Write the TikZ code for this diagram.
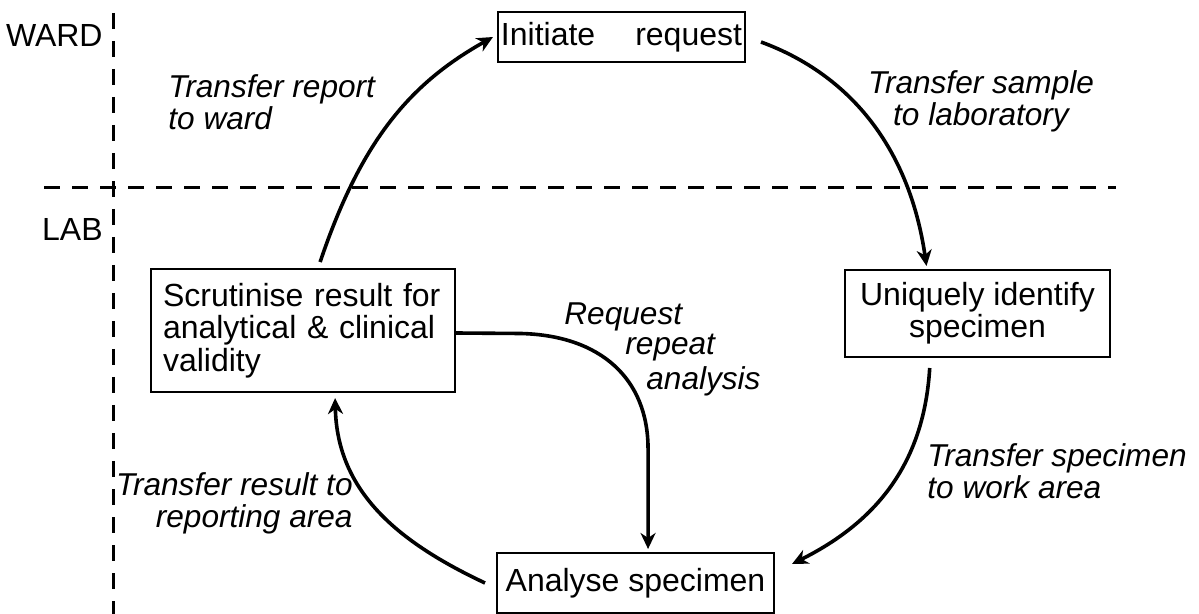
\documentclass[tikz,border=0pt]{standalone}
\usepackage{fontspec}
\setmainfont{Liberation Sans}
\usetikzlibrary{arrows.meta,calc}
\newcommand\boxsize{\fontsize{16pt}{16.2pt}\selectfont}
\newcommand\lblsize{\fontsize{15.8pt}{16pt}\selectfont}
\begin{document}
\begin{tikzpicture}[x=0.5pt,y=-0.5pt,
  box/.style={draw,line width=1pt,inner sep=0pt,font=\boxsize},
  lbl/.style={font=\lblsize\itshape,inner sep=0pt},
  zone/.style={font=\boxsize,inner sep=0pt,anchor=base east},
  divider/.style={line width=1.5pt,dash pattern=on 8pt off 6pt},
  flow/.style={line width=1.8pt,-{Stealth[length=8pt,width=7.5pt,inset=2.5pt]}}]
\useasboundingbox (0,0) rectangle (1199,614);
\fill[white] (0,0) rectangle (1199,614);

% ward / lab separation
\coordinate (vtop) at (113,13);
\coordinate (vbot) at (113,614);
\coordinate (hl) at (44,188);
\coordinate (hr) at (1116,188);
\draw[divider] (vtop) -- (vbot);
\draw[divider] (hl) -- (hr);
\node[zone] (ward) at (103,47) {WARD};
\node[zone] (lab) at (103,241) {LAB};

% process steps
\node[box,minimum width=123.5pt,minimum height=25pt] (init) at (621.5,37)
  {Initiate\hspace{20pt}request};
\node[box,minimum width=132.5pt,minimum height=43.5pt,align=center] (uniq) at (977.5,313.5)
  {Uniquely identify\\specimen};
\node[box,minimum width=138.5pt,minimum height=30pt] (anal) at (635.5,583)
  {Analyse specimen};
\node[box,minimum width=152pt,minimum height=61.5pt,text width=140pt,align=left] (scr) at (303,330.5)
  {Scrutinise result for\\analytical \& clinical\\validity};

% transfers between steps
\coordinate (a1s) at ($(scr.north west)!0.556!(scr.north east)+(0,-6)$);
\coordinate (a1e) at ($(init.west)+(-4,0)$);
\draw[flow] (a1s) .. controls +(42,-125) and +(-80,45) .. (a1e);

\coordinate (a2s) at ($(init.east)+(15,5)$);
\coordinate (a2e) at ($(uniq.north west)!0.309!(uniq.north east)+(0,-3)$);
\draw[flow] (a2s) .. controls +(90,33) and +(-17,-117) .. (a2e);

\coordinate (a3s) at ($(uniq.south west)!0.321!(uniq.south east)+(0,10)$);
\coordinate (a3e) at ($(anal.north east)+(17,12)$);
\draw[flow] (a3s) .. controls +(-6,100) and +(80,-40) .. (a3e);

\coordinate (a4s) at ($(anal.west)+(-11,0)$);
\coordinate (a4e) at ($(scr.south west)!0.605!(scr.south east)+(0,5)$);
\draw[flow] (a4s) .. controls +(-85,-40) and +(2,95) .. (a4e);

\coordinate (a5s) at ($(scr.east)+(0,2.5)$);
\coordinate (a5e) at ($(anal.north west)!0.545!(anal.north east)+(0,-3)$);
\coordinate (a5b) at ($(a5e)+(0,-100)$);
\draw[flow] (a5s) -- ++(65,0.5) .. controls +(80,2) and +(0,-70) .. (a5b) -- (a5e);

% transfer labels (anchored on the baseline of their last line)
\node[lbl,anchor=base west,align=left] (t1) at (168,130) {Transfer report\\to ward};
\node[lbl,anchor=base,align=center] (t2) at (981,126) {Transfer sample\\to laboratory};
\node[lbl,anchor=base west,align=left] (t3) at (927,498) {Transfer specimen\\to work area};
\node[lbl,anchor=base east,align=right] (t4) at (353,527) {Transfer result to\\reporting area};
\node[lbl,anchor=base west] (r1) at (564,325) {Request};
\node[lbl,anchor=base west] (r2) at (625,355) {repeat};
\node[lbl,anchor=base west] (r3) at (646,390) {analysis};
\end{tikzpicture}
\end{document}
